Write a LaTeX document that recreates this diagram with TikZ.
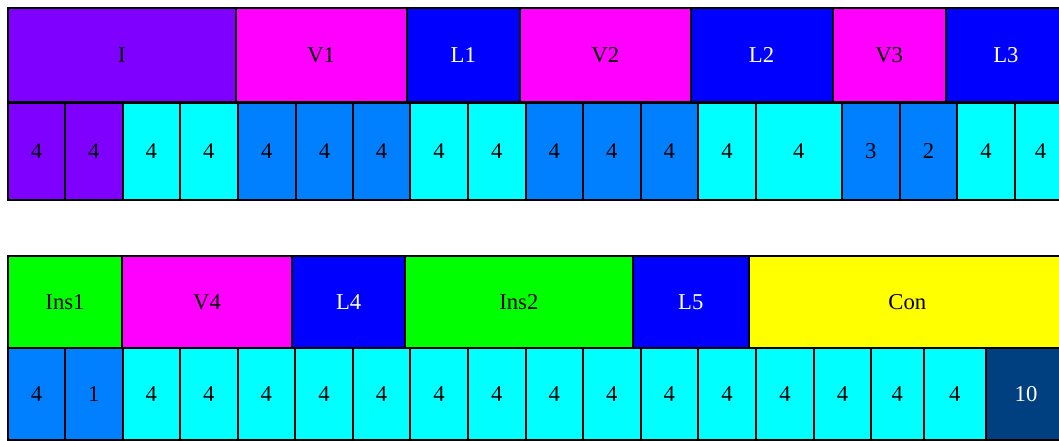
\documentclass[tikz,border=0pt]{standalone}
\usepackage{fontspec}
\setmainfont{Liberation Serif}
\usetikzlibrary{positioning}
\definecolor{purp}{RGB}{128,0,255}
\definecolor{magen}{RGB}{255,0,255}
\definecolor{blu}{RGB}{0,0,255}
\definecolor{grn}{RGB}{0,255,0}
\definecolor{yel}{RGB}{255,255,0}
\definecolor{cya}{RGB}{0,255,255}
\definecolor{azu}{RGB}{0,128,255}
\definecolor{navy}{RGB}{0,64,128}

\begin{document}
\begin{tikzpicture}[x=0.75pt,y=-0.75pt,
  box/.style={draw,line width=1.5pt,inner sep=0pt,outer sep=0pt,
    font=\fontsize{17}{19}\selectfont}]
  \useasboundingbox (0,0) rectangle (1059,441);
  \clip (0,0) rectangle (1059,441);
  % upper band: blocks
  \foreach \a/\b/\f/\c/\t [count=\i] in {8.3/235.6/purp/black/I,
      235.6/406.6/magen/black/V1, 406.6/519.9/blu/white/L1,
      519.9/690.6/magen/black/V2, 690.6/832.5/blu/white/L2,
      832.5/945.8/magen/black/V3, 945.8/1066/blu/white/L3}
    \node[box,fill=\f,text=\c,minimum width={(\b-\a)*0.75pt},minimum height=70.65pt]
      (th\i) at ({(\a+\b)/2},55.4) {\t};
  % upper band: sizes
  \foreach \a/\b/\f/\c/\t [count=\i] in {8.3/65/purp/black/4, 65/122.7/purp/black/4,
      122.7/180/cya/black/4, 180/237.6/cya/black/4, 237.6/295.8/azu/black/4,
      295.8/353.2/azu/black/4, 353.2/410/azu/black/4, 410/468.1/cya/black/4,
      468.1/525.6/cya/black/4, 525.6/583.1/azu/black/4, 583.1/640.5/azu/black/4,
      640.5/698/azu/black/4, 698/756/cya/black/4, 756/841.7/cya/black/4,
      841.7/900/azu/black/3, 900/957.3/azu/black/2, 957.3/1015/cya/black/4,
      1015/1066/cya/black/4}
    \node[box,fill=\f,text=\c,minimum width={(\b-\a)*0.75pt},minimum height=72.6pt]
      (tc\i) at ({(\a+\b)/2},151.2) {\t};
  % lower band: blocks
  \foreach \a/\b/\f/\c/\t [count=\i] in {8.3/121.7/grn/black/Ins1,
      121.7/292.4/magen/black/V4, 292.4/404.9/blu/white/L4,
      404.9/632.8/grn/black/Ins2, 632.8/748.7/blu/white/L5,
      748.7/1066/yel/black/Con}
    \node[box,fill=\f,text=\c,minimum width={(\b-\a)*0.75pt},minimum height=69.2pt]
      (bh\i) at ({(\a+\b)/2},302.15) {\t};
  % lower band: sizes
  \foreach \a/\b/\f/\c/\t [count=\i] in {8.3/65/azu/black/4, 65/122.7/azu/black/1,
      122.7/180/cya/black/4, 180/237.6/cya/black/4, 237.6/295.1/cya/black/4,
      295.1/353.2/cya/black/4, 353.2/410/cya/black/4, 410/468.1/cya/black/4,
      468.1/525.6/cya/black/4, 525.6/583.1/cya/black/4, 583.1/640.5/cya/black/4,
      640.5/698/cya/black/4, 698/756.1/cya/black/4, 756.1/814/cya/black/4,
      814/871.1/cya/black/4, 871.1/923.5/cya/black/4, 923.5/986/cya/black/4,
      986/1066/navy/white/10}
    \node[box,fill=\f,text=\c,minimum width={(\b-\a)*0.75pt},minimum height=68.8pt]
      (bc\i) at ({(\a+\b)/2},394.15) {\t};
\end{tikzpicture}
\end{document}
